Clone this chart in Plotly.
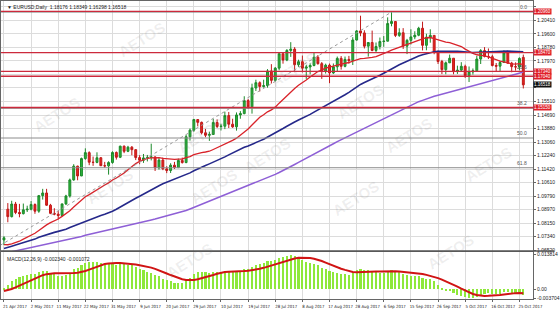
import plotly.graph_objects as go
import pandas as pd
import numpy as np

# ---------------- data ----------------
dates = pd.bdate_range("2017-04-21", "2017-10-26")  # 135 daily bars

open_ = [1.0714,1.0900,1.0855,1.0931,1.0880,1.0873,1.0896,1.0900,1.0928,1.0888,
         1.0982,1.0998,1.0924,1.0875,1.0870,1.0862,1.0932,1.0980,1.1077,1.1160,
         1.1101,1.1206,1.1242,1.1184,1.1183,1.1211,1.1163,1.1162,1.1182,1.1243,
         1.1214,1.1281,1.1250,1.1275,1.1260,1.1212,1.1196,1.1210,1.1213,1.1216,
         1.1150,1.1197,1.1144,1.1134,1.1166,1.1151,1.1195,1.1182,1.1338,1.1378,
         1.1442,1.1425,1.1362,1.1347,1.1352,1.1424,1.1400,1.1402,1.1466,1.1414,
         1.1398,1.1470,1.1478,1.1557,1.1519,1.1633,1.1665,1.1642,1.1647,1.1736,
         1.1679,1.1753,1.1840,1.1802,1.1860,1.1868,1.1774,1.1792,1.1753,1.1760,
         1.1769,1.1819,1.1780,1.1735,1.1771,1.1724,1.1761,1.1812,1.1764,1.1806,
         1.1799,1.1923,1.1978,1.1966,1.1886,1.1908,1.1860,1.1884,1.1914,1.1916,
         1.2023,1.2035,1.1951,1.1967,1.1886,1.1921,1.1942,1.1952,1.1994,1.1891,
         1.1940,1.1951,1.1848,1.1793,1.1744,1.1785,1.1813,1.1732,1.1741,1.1764,
         1.1707,1.1730,1.1737,1.1808,1.1859,1.1824,1.1822,1.1769,1.1765,1.1787,
         1.1845,1.1783,1.1762,1.1760,1.1818]
high = [1.0737,1.0937,1.0951,1.0944,1.0932,1.0934,1.0921,1.0949,1.0935,1.0986,
        1.1023,1.1023,1.0932,1.0906,1.0888,1.0933,1.0987,1.1085,1.1172,1.1163,
        1.1212,1.1268,1.1250,1.1218,1.1244,1.1215,1.1186,1.1190,1.1250,1.1249,
        1.1284,1.1285,1.1283,1.1282,1.1262,1.1227,1.1234,1.1228,1.1296,1.1219,
        1.1211,1.1212,1.1160,1.1178,1.1186,1.1206,1.1212,1.1349,1.1388,1.1446,
        1.1445,1.1430,1.1385,1.1369,1.1446,1.1443,1.1416,1.1490,1.1488,1.1447,
        1.1485,1.1493,1.1583,1.1566,1.1659,1.1683,1.1673,1.1683,1.1747,1.1777,
        1.1759,1.1845,1.1846,1.1868,1.1910,1.1880,1.1804,1.1829,1.1773,1.1782,
        1.1845,1.1832,1.1790,1.1780,1.1781,1.1781,1.1823,1.1826,1.1823,1.1827,
        1.1940,1.1983,1.2070,1.1982,1.1910,1.1980,1.1908,1.1938,1.1947,1.2060,
        1.2092,1.2035,1.1994,1.1995,1.1930,1.1988,1.1976,1.2003,1.2034,1.1961,
        1.1988,1.1951,1.1860,1.1803,1.1793,1.1835,1.1813,1.1768,1.1789,1.1774,
        1.1763,1.1751,1.1827,1.1868,1.1880,1.1872,1.1834,1.1784,1.1797,1.1861,
        1.1858,1.1791,1.1788,1.1818,1.1835]
low = [1.0683,1.0821,1.0850,1.0870,1.0851,1.0868,1.0883,1.0893,1.0872,1.0878,
       1.0958,1.0920,1.0870,1.0863,1.0838,1.0858,1.0925,1.0970,1.1072,1.1075,
       1.1100,1.1199,1.1166,1.1162,1.1178,1.1161,1.1150,1.1109,1.1175,1.1200,
       1.1209,1.1239,1.1245,1.1226,1.1197,1.1172,1.1180,1.1189,1.1195,1.1131,
       1.1139,1.1136,1.1118,1.1119,1.1143,1.1150,1.1176,1.1178,1.1315,1.1368,
       1.1401,1.1352,1.1335,1.1313,1.1350,1.1391,1.1376,1.1384,1.1391,1.1392,
       1.1375,1.1447,1.1474,1.1506,1.1478,1.1615,1.1612,1.1635,1.1635,1.1660,
       1.1672,1.1740,1.1780,1.1795,1.1821,1.1729,1.1761,1.1727,1.1688,1.1716,
       1.1764,1.1774,1.1688,1.1720,1.1662,1.1718,1.1733,1.1744,1.1758,1.1780,
       1.1772,1.1920,1.1946,1.1872,1.1823,1.1855,1.1850,1.1866,1.1882,1.1915,
       1.2006,1.1941,1.1942,1.1869,1.1838,1.1896,1.1928,1.1946,1.1860,1.1861,
       1.1907,1.1837,1.1778,1.1717,1.1716,1.1784,1.1716,1.1718,1.1730,1.1694,
       1.1669,1.1714,1.1731,1.1778,1.1818,1.1808,1.1763,1.1731,1.1736,1.1785,
       1.1780,1.1728,1.1738,1.1740,1.1630]
close = [1.0727,1.0855,1.0931,1.0880,1.0873,1.0896,1.0900,1.0928,1.0888,1.0982,
         1.0998,1.0924,1.0875,1.0870,1.0862,1.0932,1.0980,1.1077,1.1160,1.1101,
         1.1206,1.1242,1.1184,1.1183,1.1211,1.1163,1.1162,1.1182,1.1243,1.1214,
         1.1281,1.1250,1.1275,1.1260,1.1212,1.1196,1.1210,1.1213,1.1216,1.1150,
         1.1197,1.1144,1.1134,1.1166,1.1151,1.1195,1.1182,1.1338,1.1378,1.1442,
         1.1425,1.1362,1.1347,1.1352,1.1424,1.1400,1.1402,1.1466,1.1414,1.1398,
         1.1470,1.1478,1.1557,1.1519,1.1633,1.1665,1.1642,1.1647,1.1736,1.1679,
         1.1753,1.1840,1.1802,1.1860,1.1868,1.1774,1.1792,1.1753,1.1760,1.1769,
         1.1819,1.1780,1.1735,1.1771,1.1724,1.1761,1.1812,1.1764,1.1806,1.1799,
         1.1923,1.1978,1.1966,1.1886,1.1908,1.1860,1.1884,1.1914,1.1916,1.2023,
         1.2035,1.1951,1.1967,1.1886,1.1921,1.1942,1.1952,1.1994,1.1891,1.1940,
         1.1951,1.1848,1.1793,1.1744,1.1785,1.1813,1.1732,1.1741,1.1764,1.1707,
         1.1730,1.1737,1.1808,1.1859,1.1824,1.1822,1.1769,1.1765,1.1787,1.1845,
         1.1783,1.1762,1.1760,1.1812,1.1652]

# closes before the visible window (indicator warm-up)
prior_close = [1.0615,1.0646,1.0590,1.0664,1.0664,1.0765,1.0721,1.0755,1.0616,1.0559,
               1.0636,1.0624,1.0534,1.0416,1.0450,1.0400,1.0382,1.0422,1.0437,1.0455,
               1.0458,1.0455,1.0411,1.0493,1.0517,1.0456,1.0403,1.0488,1.0605,1.0530,
               1.0575,1.0552,1.0585,1.0612,1.0645,1.0604,1.0715,1.0636,1.0662,1.0704,
               1.0763,1.0733,1.0749,1.0679,1.0697,1.0693,1.0799,1.0763,1.0762,1.0784,
               1.0750,1.0684,1.0699,1.0656,1.0640,1.0601,1.0575,1.0603,1.0677,1.0616,
               1.0617,1.0541,1.0557,1.0584,1.0561,1.0603,1.0575,1.0547,1.0502,1.0620,
               1.0582,1.0567,1.0545,1.0581,1.0673,1.0656,1.0603,1.0733,1.0766,1.0741,
               1.0740,1.0806,1.0799,1.0782,1.0799,1.0862,1.0813,1.0767,1.0677,1.0652,
               1.0667,1.0674,1.0662,1.0642,1.0642,1.0600,1.0612,1.0674,1.0614,1.0616,
               1.0643,1.0731,1.0717,1.0715]

ma_periods = [20, 45, 90]
sr_levels = [1.2096, 1.1847, 1.1734, 1.1704, 1.1515]
fib_low_idx, fib_low = -9, 1.0569
fib_high_idx, fib_high = 100, 1.2092
fib_ratios = [0.0, 23.6, 38.2, 50.0, 61.8]
last_price = 1.16518

price_ticks = [1.21230,1.20410,1.19600,1.18780,1.17970,1.17150,1.16330,1.15510,
               1.14690,1.13880,1.13060,1.12240,1.11420,1.10610,1.09790,1.08970,
               1.08150,1.07340,1.06520]
label_step = 7
header_text = "\u25BC EURUSD,Daily  1.18176 1.18349 1.16298 1.16518"
macd_text = "MACD(12,26,9) -0.002340 -0.001072"

# ---------------- indicators ----------------
n = len(close)
idx = list(range(n))
full = pd.Series(prior_close + close)
mas = {p: full.rolling(p).mean().iloc[-n:].tolist() for p in ma_periods}
ema12 = full.ewm(span=12, adjust=False).mean()
ema26 = full.ewm(span=26, adjust=False).mean()
macd_full = ema12 - ema26
sig_full = macd_full.rolling(9).mean()
macd = macd_full.iloc[-n:].tolist()
signal = sig_full.iloc[-n:].tolist()

tick_pos = list(range(0, n, label_step))
tick_txt = [f"{dates[i].day} {dates[i].strftime('%b %Y')}" for i in tick_pos]

# price axis: hide tick texts that sit under a coloured price box
Y0, Y1 = 1.0647, 1.2159
px_per_unit = 252.0 / (Y1 - Y0)
boxed = sr_levels + [last_price]
price_txt = []
for t in price_ticks:
    covered = any(abs(t - b) * px_per_unit < 4.6 for b in boxed)
    price_txt.append("" if covered else f"{t:.5f}")

# ---------------- figure ----------------
FONT = "Liberation Sans"
NARROW = "Liberation Sans Narrow, DejaVu Sans Condensed, Liberation Sans"
fig = go.Figure()
fig.add_trace(go.Candlestick(
    x=idx, open=open_, high=high, low=low, close=close,
    increasing=dict(line=dict(color="#1c8a2a", width=1), fillcolor="#2db23c"),
    decreasing=dict(line=dict(color="#c01818", width=1), fillcolor="#e8261f"),
    whiskerwidth=0, showlegend=False, hoverinfo="skip", xaxis="x", yaxis="y"))

ma_colors = {20: "#d9232a", 45: "#25288a", 90: "#8e5fd6"}
ma_widths = {20: 1.3, 45: 1.6, 90: 1.5}
for p in ma_periods:
    fig.add_trace(go.Scatter(x=idx, y=mas[p], mode="lines",
                             line=dict(color=ma_colors[p], width=ma_widths[p]),
                             showlegend=False, hoverinfo="skip", xaxis="x", yaxis="y"))

# fibonacci trend line (dotted)
fig.add_trace(go.Scatter(x=[fib_low_idx, fib_high_idx], y=[fib_low, fib_high], mode="lines",
                         line=dict(color="#9a9a9a", width=1, dash="dot"),
                         showlegend=False, hoverinfo="skip", xaxis="x", yaxis="y"))

# MACD
fig.add_trace(go.Bar(x=idx, y=macd, marker=dict(color="#8ee83a", line=dict(width=0)),
                     width=0.55, showlegend=False, hoverinfo="skip", xaxis="x2", yaxis="y2"))
fig.add_trace(go.Scatter(x=idx, y=signal, mode="lines", line=dict(color="#d01414", width=2),
                         showlegend=False, hoverinfo="skip", xaxis="x2", yaxis="y2"))

shapes = []
annotations = []
# fibonacci levels
for r in fib_ratios:
    v = fib_high - (fib_high - fib_low) * r / 100.0
    shapes.append(dict(type="line", xref="x domain", x0=0, x1=1, yref="y", y0=v, y1=v,
                       line=dict(color="#8c8c8c", width=1)))
    annotations.append(dict(xref="paper", x=0.993, xanchor="right", yref="y", y=v, yanchor="bottom",
                            text=f"{r:.1f}", showarrow=False,
                            font=dict(size=5, color="#555555", family=FONT)))
# support/resistance
for v in sr_levels:
    shapes.append(dict(type="line", xref="x domain", x0=0, x1=1, yref="y", y0=v, y1=v,
                       line=dict(color="#cc2a3c", width=1.3)))
    annotations.append(dict(xref="paper", x=1.0, xanchor="left", yref="y", y=v, yanchor="middle",
                            text=f"{v:.5f}", showarrow=False, bgcolor="#e0202a", borderpad=0,
                            font=dict(size=4.5, color="white", family=FONT)))
annotations.append(dict(xref="paper", x=1.0, xanchor="left", yref="y", y=last_price, yanchor="middle",
                        text=f"{last_price:.5f}", showarrow=False, bgcolor="#111111", borderpad=0,
                        font=dict(size=4.5, color="white", family=FONT)))
# pane separator
shapes.append(dict(type="line", xref="paper", x0=0, x1=1.04, yref="paper", y0=0.161, y1=0.161,
                   line=dict(color="#555555", width=1.5)))

annotations.append(dict(xref="paper", x=0.008, xanchor="left", yref="paper", y=0.998, yanchor="top",
                        text=header_text, showarrow=False, font=dict(size=5, color="#222222", family=FONT)))
annotations.append(dict(xref="paper", x=0.008, xanchor="left", yref="paper", y=0.152, yanchor="top",
                        text=macd_text, showarrow=False, font=dict(size=5, color="#222222", family=FONT)))

# watermarks
wm = [(0.21, 0.95), (0.55, 0.85), (0.73, 0.74), (0.05, 0.62), (0.32, 0.55), (0.50, 0.48),
      (0.82, 0.55), (0.97, 0.45), (0.40, 0.30), (0.72, 0.26), (0.15, 0.30), (0.90, 0.08), (0.30, 0.05)]
for (wx, wy) in wm:
    annotations.append(dict(xref="paper", yref="paper", x=wx, y=wy, text="<b>AETOS</b>", showarrow=False,
                            textangle=-32, font=dict(size=15, color="rgba(120,120,120,0.12)", family=FONT)))

mmax = max(max(macd), max(signal))
mmin = min(min(macd), min(signal))
grid = "#dcdcdc"
fig.update_layout(
    width=560, height=309, margin=dict(l=0, r=18, t=0, b=9),
    paper_bgcolor="white", plot_bgcolor="white",
    font=dict(family=FONT, size=5, color="#222222"),
    shapes=shapes, annotations=annotations, bargap=0,
    xaxis=dict(domain=[0, 1], range=[-0.76, 136.5], anchor="y", rangeslider=dict(visible=False),
               tickvals=tick_pos, showticklabels=False, showgrid=True, gridcolor=grid, gridwidth=1,
               zeroline=False, showline=True, linecolor="#666666", mirror=True),
    yaxis=dict(domain=[0.161, 1], range=[Y0, Y1], side="right", anchor="x",
               tickvals=price_ticks, ticktext=price_txt,
               tickfont=dict(size=5), showgrid=True, gridcolor=grid, zeroline=False,
               showline=True, linecolor="#666666", mirror=True, ticks="outside", ticklen=2,
               tickcolor="#666666"),
    xaxis2=dict(domain=[0, 1], range=[-0.76, 136.5], anchor="y2", matches="x",
                tickvals=tick_pos, ticktext=tick_txt, tickfont=dict(size=4.3, family=NARROW), tickangle=0,
                ticklabelshift=11, ticklabelstandoff=1,
                showgrid=True, gridcolor=grid, zeroline=False, showline=True, linecolor="#666666",
                mirror=True, ticks="outside", ticklen=2, tickcolor="#666666"),
    yaxis2=dict(domain=[0, 0.158], range=[mmin * 1.08, mmax * 1.08], side="right", anchor="x2",
                tickvals=[mmax, 0, mmin], ticktext=[f"{mmax:.6f}", "0.00", f"{mmin:.6f}"],
                tickfont=dict(size=5), showgrid=False, zeroline=False, showline=True,
                linecolor="#666666", mirror=True, ticks="outside", ticklen=2, tickcolor="#666666"),
)

fig.write_html("out.html")
